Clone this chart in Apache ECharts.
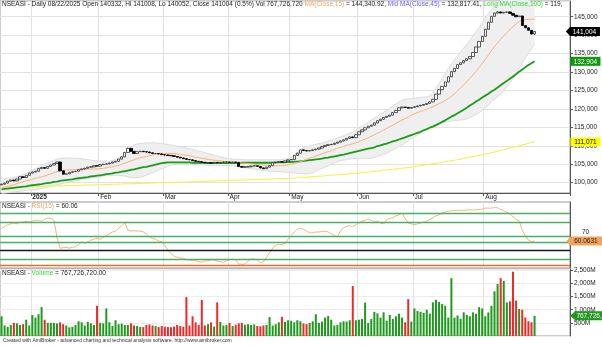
<!DOCTYPE html>
<html><head><meta charset="utf-8">
<script src="https://cdn.jsdelivr.net/npm/echarts@6/dist/echarts.min.js"></script>
<style>html,body{margin:0;padding:0;background:#fff}#c{width:602px;height:347px}</style>
</head><body><div id="c"></div>
<script>
// ---------- tick labels / categories ----------
const monthLabels = ['', '2025', 'Feb', 'Mar', 'Apr', 'May', 'Jun', 'Jul', 'Aug'];
const barsPerMonth = [10, 22, 21, 21, 20, 22, 18, 23, 17];
const padBars = 11;

// ---------- price (thousands) ----------
const openK = [
99.4,99.6,99.9,100.4,100.7,100.5,101.0,101.6,101.4,102.0,
102.6,102.9,103.1,103.8,104.1,103.9,104.4,104.8,105.2,105.6,
103.2,102.3,102.4,102.8,103.0,103.1,103.5,103.7,103.9,104.2,
104.3,104.6,104.5,104.9,105.0,105.1,105.3,105.6,105.8,106.4,
107.0,108.2,109.3,108.5,107.9,108.4,108.5,108.4,108.3,108.1,
107.9,107.9,107.8,107.6,107.5,107.4,107.3,107.1,106.9,106.7,
106.5,106.3,106.2,106.0,105.8,105.7,105.5,105.4,105.4,105.3,
105.5,105.4,105.5,105.6,105.6,105.5,105.6,105.5,104.4,104.2,
104.3,104.3,104.5,104.6,104.4,104.0,103.8,104.2,104.6,105.4,
105.5,105.7,105.6,105.9,106.2,106.3,107.4,108.0,108.9,108.7,
108.6,108.7,108.9,109.1,109.4,109.8,110.1,110.3,110.4,110.7,
111.0,111.3,111.6,112.0,112.4,112.2,113.0,113.8,114.3,114.9,
115.3,115.6,116.2,116.8,117.2,117.7,118.0,118.3,119.0,119.6,
120.3,120.5,120.4,120.2,120.4,120.6,120.8,121.0,121.2,121.5,
121.9,122.6,124.0,125.2,126.1,127.3,128.7,130.1,131.0,132.0,
132.5,133.1,133.6,134.2,135.3,136.8,138.3,139.7,141.6,143.5,
145.1,146.0,146.3,146.0,146.2,146.3,145.9,145.4,145.0,145.2,
142.6,142.0,141.3,140.332];
const closeK = [
99.6,99.9,100.4,100.7,100.5,101.0,101.6,101.4,102.0,102.6,
102.9,103.1,103.8,104.1,103.9,104.4,104.8,105.2,105.6,103.2,
102.3,102.4,102.8,103.0,103.1,103.5,103.7,103.9,104.2,104.3,
104.6,104.5,104.9,105.0,105.1,105.3,105.6,105.8,106.4,107.0,
108.2,109.3,108.5,107.9,108.4,108.5,108.4,108.3,108.1,107.9,
107.9,107.8,107.6,107.5,107.4,107.3,107.1,106.9,106.7,106.5,
106.3,106.2,106.0,105.8,105.7,105.5,105.4,105.4,105.3,105.5,
105.4,105.5,105.6,105.6,105.5,105.6,105.5,104.4,104.2,104.3,
104.3,104.5,104.6,104.4,104.0,103.8,104.2,104.6,105.4,105.5,
105.7,105.6,105.9,106.2,106.3,107.4,108.0,108.9,108.7,108.6,
108.7,108.9,109.1,109.4,109.8,110.1,110.3,110.4,110.7,111.0,
111.3,111.6,112.0,112.4,112.2,113.0,113.8,114.3,114.9,115.3,
115.6,116.2,116.8,117.2,117.7,118.0,118.3,119.0,119.6,120.3,
120.5,120.4,120.2,120.4,120.6,120.8,121.0,121.2,121.5,121.9,
122.6,124.0,125.2,126.1,127.3,128.7,130.1,131.0,132.0,132.5,
133.1,133.6,134.2,135.3,136.8,138.3,139.7,141.6,143.5,145.1,
146.0,146.3,146.0,146.2,146.3,145.9,145.4,145.0,145.2,142.6,
142.0,141.3,140.3,141.004];
const highK = [
99.7,100.0,100.5,100.8,100.8,101.1,101.7,101.7,102.1,102.7,
103.0,103.2,103.9,104.2,104.2,104.5,104.9,105.3,105.7,105.7,
103.3,102.5,102.9,103.1,103.2,103.6,103.8,104.0,104.3,104.4,
104.7,104.7,105.0,105.1,105.2,105.4,105.7,105.9,106.5,107.1,
108.3,109.5,109.4,108.6,108.5,108.6,108.6,108.5,108.4,108.2,
108.0,108.0,107.9,107.7,107.6,107.5,107.4,107.2,107.0,106.8,
106.6,106.4,106.3,106.1,105.9,105.8,105.6,105.5,105.5,105.6,
105.6,105.6,105.7,105.7,105.7,105.7,105.7,105.6,104.5,104.4,
104.4,104.6,104.7,104.7,104.5,104.1,104.3,104.7,105.5,105.6,
105.8,105.8,106.0,106.3,106.4,107.5,108.1,109.0,109.0,108.8,
108.8,109.0,109.2,109.5,109.9,110.2,110.4,110.5,110.8,111.1,
111.4,111.7,112.1,112.5,112.5,113.1,113.9,114.4,115.0,115.4,
115.7,116.3,116.9,117.3,117.8,118.1,118.4,119.1,119.7,120.4,
120.6,120.6,120.5,120.5,120.7,120.9,121.1,121.3,121.6,122.0,
122.7,124.1,125.3,126.2,127.4,128.8,130.2,131.1,132.1,132.6,
133.2,133.7,134.3,135.4,136.9,138.4,139.8,141.7,143.6,145.2,
146.1,146.5,146.4,146.3,146.4,146.4,146.0,145.5,145.3,145.3,
142.7,142.1,141.4,141.008];
const lowK = [
99.3,99.5,99.8,100.3,100.4,100.4,100.9,101.3,101.3,101.9,
102.5,102.8,103.0,103.7,103.8,103.8,104.3,104.7,105.1,103.1,
102.2,102.2,102.3,102.7,102.9,103.0,103.4,103.6,103.8,104.1,
104.2,104.4,104.4,104.8,104.9,105.0,105.2,105.5,105.7,106.3,
106.9,108.1,108.4,107.8,107.8,108.3,108.3,108.2,108.0,107.8,
107.8,107.7,107.5,107.4,107.3,107.2,107.0,106.8,106.6,106.4,
106.2,106.1,105.9,105.7,105.6,105.4,105.3,105.3,105.2,105.2,
105.3,105.3,105.4,105.5,105.4,105.4,105.4,104.3,104.1,104.1,
104.2,104.2,104.4,104.3,103.9,103.7,103.7,104.1,104.5,105.3,
105.4,105.5,105.5,105.8,106.1,106.2,107.3,107.9,108.6,108.5,
108.5,108.6,108.8,109.0,109.3,109.7,110.0,110.2,110.3,110.6,
110.9,111.2,111.5,111.9,112.1,112.1,112.9,113.7,114.2,114.8,
115.2,115.5,116.1,116.7,117.1,117.6,117.9,118.2,118.9,119.5,
120.2,120.3,120.1,120.1,120.3,120.5,120.7,120.9,121.1,121.4,
121.8,122.5,123.9,125.1,126.0,127.2,128.6,130.0,130.9,131.9,
132.4,133.0,133.5,134.1,135.2,136.7,138.2,139.6,141.5,143.4,
145.0,145.9,145.9,145.9,146.1,145.8,145.3,144.9,144.9,142.5,
141.9,141.2,140.2,140.052];

// ---------- overlays (thousands) ----------
const ma15K = [
98.6,98.8,99.0,99.2,99.5,99.7,100.0,100.3,100.5,100.7,
100.9,101.2,101.4,101.6,101.8,102.1,102.4,102.7,103.0,103.2,
103.4,103.4,103.5,103.5,103.6,103.6,103.7,103.7,103.7,103.7,
103.7,103.7,103.75,103.9,104.0,104.2,104.3,104.5,104.7,105.0,
105.3,105.6,105.9,106.2,106.5,106.7,106.9,107.1,107.3,107.5,
107.7,107.8,107.9,107.9,108.0,107.9,107.9,107.8,107.7,107.6,
107.4,107.3,107.1,106.9,106.8,106.6,106.5,106.3,106.2,106.1,
106.0,105.9,105.8,105.7,105.6,105.5,105.5,105.4,105.3,105.3,
105.2,105.1,105.0,104.9,104.8,104.8,104.7,104.7,104.6,104.6,
104.6,104.6,104.7,104.8,105.0,105.2,105.4,105.7,106.0,106.3,
106.6,106.9,107.2,107.5,107.8,108.1,108.4,108.7,109.0,109.3,
109.6,109.8,110.1,110.3,110.6,110.8,111.1,111.5,111.8,112.2,
112.6,113.0,113.4,113.8,114.3,114.7,115.2,115.6,116.1,116.5,
117.0,117.4,117.8,118.3,118.7,119.0,119.3,119.6,119.9,120.3,
120.6,121.0,121.4,121.8,122.3,122.8,123.4,124.1,124.9,125.7,
126.5,127.4,128.3,129.2,130.2,131.2,132.3,133.4,134.6,135.8,
136.9,137.9,138.9,139.8,140.7,141.5,142.3,143.0,143.7,144.0,
144.2,144.3,144.3,144.34];
const midMaK = [
98.2,98.3,98.4,98.5,98.6,98.7,98.8,98.9,99.0,99.2,
99.3,99.4,99.5,99.6,99.8,99.9,100.0,100.2,100.3,100.5,
100.6,100.7,100.8,100.9,101.1,101.2,101.3,101.4,101.5,101.7,
101.8,101.9,102.0,102.1,102.3,102.4,102.5,102.7,102.8,103.0,
103.1,103.3,103.5,103.6,103.8,104.0,104.2,104.3,104.5,104.7,
104.9,105.1,105.3,105.4,105.5,105.5,105.5,105.5,105.5,105.5,
105.5,105.5,105.4,105.4,105.4,105.4,105.4,105.3,105.3,105.3,
105.3,105.3,105.3,105.3,105.3,105.3,105.3,105.3,105.4,105.4,
105.4,105.4,105.4,105.4,105.4,105.4,105.4,105.4,105.4,105.5,
105.5,105.5,105.5,105.6,105.6,105.7,105.7,105.8,105.9,106.0,
106.1,106.2,106.3,106.4,106.5,106.7,106.8,107.0,107.1,107.3,
107.5,107.6,107.8,108.0,108.2,108.4,108.6,108.8,109.0,109.2,
109.4,109.6,109.9,110.1,110.4,110.6,110.9,111.2,111.4,111.7,
112.0,112.3,112.6,112.9,113.2,113.5,113.8,114.2,114.5,114.9,
115.2,115.6,116.0,116.5,116.9,117.4,117.9,118.3,118.8,119.3,
119.8,120.3,120.9,121.4,122.0,122.5,123.1,123.6,124.1,124.7,
125.2,125.8,126.4,127.0,127.6,128.2,128.8,129.4,130.1,130.7,
131.3,131.9,132.4,132.904];
const longMaK = [
98.70,98.72,98.75,98.77,98.79,98.82,98.84,98.86,98.89,98.91,
98.93,98.96,98.98,99.00,99.03,99.05,99.07,99.10,99.12,99.14,
99.17,99.19,99.21,99.24,99.26,99.28,99.31,99.33,99.35,99.38,
99.40,99.43,99.45,99.48,99.51,99.53,99.56,99.59,99.61,99.64,
99.67,99.69,99.72,99.75,99.77,99.80,99.83,99.85,99.88,99.91,
99.93,99.96,99.99,100.01,100.04,100.07,100.09,100.12,100.15,100.17,
100.20,100.23,100.26,100.29,100.32,100.35,100.38,100.41,100.44,100.47,
100.50,100.53,100.56,100.59,100.62,100.65,100.68,100.71,100.74,100.76,
100.79,100.82,100.85,100.88,100.91,100.94,100.97,101.00,101.03,101.06,
101.09,101.12,101.15,101.18,101.20,101.26,101.32,101.39,101.45,101.51,
101.57,101.63,101.70,101.76,101.82,101.88,101.95,102.01,102.07,102.13,
102.19,102.26,102.32,102.38,102.44,102.50,102.59,102.69,102.78,102.88,
102.97,103.07,103.16,103.26,103.35,103.44,103.54,103.63,103.73,103.82,
103.92,104.01,104.11,104.20,104.33,104.47,104.60,104.73,104.87,105.00,
105.13,105.27,105.40,105.53,105.67,105.80,105.93,106.07,106.20,106.38,
106.55,106.73,106.90,107.08,107.25,107.43,107.60,107.78,107.95,108.13,
108.30,108.52,108.73,108.95,109.16,109.38,109.59,109.81,110.02,110.24,
110.45,110.67,110.88,111.071];
const bandUpperK = [
101.0,101.1,101.2,101.3,101.5,101.6,101.9,102.2,102.5,102.9,
103.4,103.8,104.2,104.6,105.0,105.4,105.7,106.0,106.4,106.6,
106.7,106.7,106.7,106.7,106.6,106.6,106.5,106.4,106.3,106.1,
106.0,105.9,105.9,105.8,105.8,105.8,106.0,106.3,106.7,107.1,
107.6,108.7,109.8,110.2,110.5,110.6,110.7,110.8,110.8,110.8,
110.8,110.7,110.6,110.5,110.4,110.2,110.0,109.9,109.7,109.6,
109.4,109.2,109.0,108.8,108.6,108.4,108.2,107.9,107.7,107.4,
107.2,107.0,106.8,106.6,106.5,106.4,106.3,106.3,106.3,106.2,
106.2,106.2,106.2,106.2,106.2,106.2,106.2,106.2,106.2,106.2,
106.2,106.3,106.4,106.6,106.9,107.6,108.2,108.9,109.5,109.8,
110.0,110.2,110.4,110.6,110.8,111.0,111.3,111.6,111.8,112.1,
112.4,112.7,113.1,113.4,113.8,114.2,114.8,115.3,115.9,116.4,
117.0,117.5,118.0,118.6,119.1,119.6,120.2,120.8,121.3,121.9,
122.4,122.6,122.7,122.8,122.9,123.0,123.1,123.2,123.3,123.5,
124.5,125.6,126.9,128.2,129.6,131.0,132.2,133.3,134.4,135.5,
136.5,137.6,138.7,139.8,140.9,142.0,143.3,144.6,145.9,147.0,
148.0,148.8,149.4,149.9,150.3,150.6,150.7,150.6,150.4,150.2,
150.0,149.6,149.1,148.6];
const bandLowerK = [
97.0,97.1,97.2,97.3,97.4,97.6,97.7,97.8,97.9,98.0,
98.0,98.1,98.2,98.4,98.6,98.8,99.0,99.2,99.4,99.6,
99.8,100.0,100.2,100.3,100.5,100.6,100.8,101.0,101.1,101.3,
101.4,101.5,101.6,101.8,101.9,102.0,102.0,102.0,101.9,101.9,
101.8,101.6,101.4,101.4,101.4,101.4,101.7,102.0,102.4,102.7,
103.0,103.4,103.8,104.1,104.5,104.8,104.9,104.9,105.0,105.0,
105.0,105.0,104.9,104.9,104.9,104.8,104.8,104.7,104.7,104.6,
104.6,104.6,104.6,104.6,104.6,104.6,104.4,104.2,104.1,104.0,
103.9,103.8,103.7,103.6,103.4,103.3,103.2,103.1,103.1,103.0,
103.0,102.9,102.9,102.8,102.7,102.6,102.5,102.5,102.4,102.4,
102.4,102.7,103.1,103.5,103.9,104.2,104.6,105.0,105.3,105.7,
106.0,106.1,106.2,106.4,106.5,106.6,106.6,106.6,106.6,106.6,
106.6,106.9,107.1,107.4,107.7,108.0,108.4,108.9,109.3,109.8,
110.2,110.8,111.3,111.9,112.4,113.0,113.5,114.1,114.6,115.1,
115.6,115.8,116.0,116.2,116.4,116.6,116.7,116.8,116.9,117.0,
117.0,117.3,117.7,118.1,118.5,119.0,119.6,120.3,121.1,122.0,
122.6,123.3,124.1,125.0,126.0,127.0,128.3,129.6,131.0,132.5,
133.8,135.1,136.3,137.4];

// ---------- RSI(15) ----------
const rsi15 = [
74,76,78,79,80,79,81,81,82,81,
82,83,83,82,84,85.5,85,83,64,52,
52.5,53,52,53,53.5,56,59,57,59,61,
62,63,62,64,66,68,70,71,74,77,
80,72,71,71.5,71,71,70,68,65,63,
62,60,59,55,50,46,43,42,41,41,
39,39,38,38,37,36.5,38,38,39,39,
37.5,37,36.5,38,39,40,39,34.5,34,34.5,
38,40,40,39,35.5,37,42,47,52,55.5,
56,56,57.5,62,66,70,73,74.5,73,71,
69,69,70,70,70.5,71,70,68,66,64.5,
71,75,76,77,76,78,80,82,83,84.5,
83,81,82,80,79,84,85,86,88,89,
91,85,80,79,78,79,80,81,82,84,
86,88,89,91,92,93,93.5,94,94,94,
94,94.5,94.5,94.5,94.5,95,95.5,96.5,96.5,96.5,
97,97,95,93.5,92,90,87,84,82,72,
66,61,59.5,60.0631];
const rsiLevels = [91.1, 80.8, 65.2, 58.6, 49.7, 39.7, 32.6];
const rsiTickValues = [70];

// ---------- Volume (millions) ----------
const volumeM = [
750,400,350,420,500,480,420,450,620,400,
800,700,830,1100,620,500,500,500,480,520,
450,400,330,350,420,560,520,400,540,480,
420,1150,500,480,1050,520,380,600,450,470,
420,420,480,400,380,350,340,420,440,400,
380,340,380,350,340,330,360,420,380,350,
1480,400,750,520,420,1370,400,450,520,360,
1280,540,400,420,500,380,430,480,500,430,
450,420,440,380,370,400,420,720,400,450,
520,730,540,600,580,520,600,560,480,450,
500,560,830,500,550,700,760,620,400,420,
520,560,550,600,1900,600,620,650,1270,500,
650,920,860,700,900,580,800,650,750,850,
700,520,1400,550,1050,950,920,880,1000,850,
1280,1380,1300,1220,1150,700,2200,700,780,650,
900,800,750,900,850,1100,1050,750,900,1150,
1700,1980,2200,2100,1280,1320,2450,1350,1030,1000,
700,560,520,767.72672];

// ---------- build ----------
const categories = [], isMonthStart = [], tickText = [];
monthLabels.forEach((m, mi) => {
  for (let d = 0; d < barsPerMonth[mi]; d++) {
    categories.push(mi + '-' + d);
    const start = d === 0 && mi > 0;
    isMonthStart.push(start);
    tickText.push(start ? (mi === 1 ? '{y|' + m + '}' : m) : '');
  }
});
for (let p = 0; p < padBars; p++) { categories.push('pad-' + p); isMonthStart.push(false); tickText.push(''); }
const lastCat = categories[categories.length - 1];
const nLast = closeK.length - 1;

function fmtInt(n) { return String(Math.round(n)).replace(/\B(?=(\d{3})+(?!\d))/g, ','); }

const FONT = 'Liberation Sans';
const FS = 6.5;
const ARROW = 'path://M0,5L4,0L34,0L34,10L4,10Z';

function xAxisFor(gi, showLabels) {
  return {
    type: 'category', gridIndex: gi, data: categories, boundaryGap: true,
    axisLine: { show: gi === 0, lineStyle: { color: '#555', width: 1 } },
    axisTick: { show: showLabels, interval: (i) => isMonthStart[i], length: 3, lineStyle: { color: '#555' } },
    axisLabel: {
      show: showLabels, interval: (i) => isMonthStart[i], formatter: (v, i) => tickText[i],
      align: 'left', margin: 1, fontSize: FS, color: '#222', fontFamily: FONT,
      rich: { y: { fontWeight: 'bold', fontSize: FS, fontFamily: FONT, color: '#222' } }
    },
    splitLine: { show: true, interval: (i) => isMonthStart[i], lineStyle: { color: '#e2e2e2', width: 1 } }
  };
}

function lastMark(coordVal, text, bg, fg, arrow, w, off) {
  return {
    symbol: arrow ? ARROW : 'rect', symbolSize: [w, 9], symbolKeepAspect: false,
    symbolOffset: [off, 0], silent: true, animation: false,
    itemStyle: { color: bg },
    label: { show: true, position: 'inside', color: fg, fontSize: FS, fontFamily: FONT, formatter: text, offset: [arrow ? 1.5 : 0, 0.5] },
    data: [{ coord: [lastCat, coordVal] }]
  };
}

const candleData = openK.map((o, i) => [o, closeK[i], lowK[i], highK[i]]);
const bandWidthK = bandUpperK.map((u, i) => +(u - bandLowerK[i]).toFixed(3));
const volColor = (p) => {
  const i = p.dataIndex;
  return (i === 0 || closeK[i] >= closeK[i - 1]) ? '#1f9a1f' : '#ec2a2a';
};

const option = {
  animation: false,
  backgroundColor: '#ffffff',
  textStyle: { fontFamily: FONT },
  title: [
    { left: 2, top: 1, padding: 0, textStyle: { fontSize: FS, fontWeight: 'normal', color: '#1a1a1a', fontFamily: FONT,
        rich: { d: { fontSize: FS, color: '#1a1a1a', fontFamily: FONT }, o: { fontSize: FS, color: '#f7a35c', fontFamily: FONT },
                b: { fontSize: FS, color: '#6a5cff', fontFamily: FONT }, g: { fontSize: FS, color: '#3ad43a', fontFamily: FONT } } },
      text: '{d|NSEASI - Daily 08/22/2025 Open 140332, Hi 141008, Lo 140052, Close 141004 (0.5%) Vol 767,726,720 }{o|MA(Close,15)}{d| = 144,340.92, }{b|Mid MA(Close,45)}{d| = 132,817.41, }{g|Long MA(Close,100)}{d| = 119,}' },
    { left: 2, top: 203, padding: 0, textStyle: { fontSize: FS, fontWeight: 'normal', fontFamily: FONT,
        rich: { d: { fontSize: FS, color: '#1a1a1a', fontFamily: FONT }, o: { fontSize: FS, color: '#f7a35c', fontFamily: FONT } } },
      text: '{d|NSEASI - }{o|RSI(15)}{d| = 60.06}' },
    { left: 2, top: 270, padding: 0, textStyle: { fontSize: FS, fontWeight: 'normal', fontFamily: FONT,
        rich: { d: { fontSize: FS, color: '#1a1a1a', fontFamily: FONT }, g: { fontSize: FS, color: '#3ad43a', fontFamily: FONT } } },
      text: '{d|NSEASI - }{g|Volume}{d| = 767,726,720.00}' },
    { left: 3, top: 338, padding: 0, textStyle: { fontSize: 5, fontWeight: 'normal', color: '#333', fontFamily: FONT },
      text: 'Created with AmiBroker - advanced charting and technical analysis software. http://www.amibroker.com' }
  ],
  grid: [
    { left: 0, right: 32, top: 1, height: 192, show: true, borderColor: '#9a9a9a', borderWidth: 1 },
    { left: 0, right: 32, top: 202, height: 66, show: true, borderColor: '#9a9a9a', borderWidth: 1 },
    { left: 0, right: 32, top: 269, height: 67, show: true, borderColor: '#9a9a9a', borderWidth: 1 }
  ],
  xAxis: [xAxisFor(0, true), xAxisFor(1, false), xAxisFor(2, false)],
  yAxis: [
    { type: 'value', gridIndex: 0, position: 'right', min: 97.2, max: 149.26, splitNumber: 10,
      axisLine: { show: true, lineStyle: { color: '#555' } }, axisTick: { show: true, length: 3, lineStyle: { color: '#555' } },
      axisLabel: { showMinLabel: false, showMaxLabel: false, fontSize: FS, margin: 4, color: '#222', fontFamily: FONT, formatter: (v) => fmtInt(v * 1000) },
      splitLine: { show: true, lineStyle: { color: '#e2e2e2' } } },
    { type: 'value', gridIndex: 1, position: 'right', min: 30, max: 103.3, interval: 10,
      axisLine: { show: true, lineStyle: { color: '#555' } }, axisTick: { show: false },
      axisLabel: { showMinLabel: false, showMaxLabel: false, fontSize: FS, margin: 12, color: '#222', fontFamily: FONT,
        formatter: (v) => rsiTickValues.indexOf(v) >= 0 ? String(v) : '' },
      splitLine: { show: false } },
    { type: 'value', gridIndex: 2, position: 'right', min: 0, max: 2550, interval: 500,
      axisLine: { show: true, lineStyle: { color: '#555' } }, axisTick: { show: true, length: 3, lineStyle: { color: '#555' } },
      axisLabel: { showMinLabel: false, showMaxLabel: false, fontSize: FS, margin: 4, color: '#222', fontFamily: FONT, formatter: (v) => fmtInt(v) + 'M' },
      splitLine: { show: true, lineStyle: { color: '#ececec' } } }
  ],
  series: [
    { type: 'line', xAxisIndex: 0, yAxisIndex: 0, data: bandLowerK, stack: 'bb', symbol: 'none', silent: true,
      lineStyle: { opacity: 0 }, z: 1 },
    { type: 'line', xAxisIndex: 0, yAxisIndex: 0, data: bandWidthK, stack: 'bb', symbol: 'none', silent: true,
      lineStyle: { opacity: 0 }, areaStyle: { color: '#efefef', opacity: 1 }, z: 1 },
    { type: 'line', xAxisIndex: 0, yAxisIndex: 0, data: bandUpperK, symbol: 'none', silent: true,
      lineStyle: { color: '#d6d6d6', width: 0.8 }, z: 2 },
    { type: 'line', xAxisIndex: 0, yAxisIndex: 0, data: bandLowerK, symbol: 'none', silent: true,
      lineStyle: { color: '#d6d6d6', width: 0.8 }, z: 2 },
    { type: 'line', xAxisIndex: 0, yAxisIndex: 0, data: longMaK, symbol: 'none', silent: true, clip: false,
      lineStyle: { color: '#f3f34a', width: 1.1 }, z: 3,
      markPoint: lastMark(longMaK[nLast], fmtInt(longMaK[nLast] * 1000), '#ffff00', '#000', false, 30, 17) },
    { type: 'line', xAxisIndex: 0, yAxisIndex: 0, data: midMaK, symbol: 'none', silent: true, clip: false,
      lineStyle: { color: '#1c9a1c', width: 1.8 }, z: 3,
      markPoint: lastMark(midMaK[nLast], fmtInt(midMaK[nLast] * 1000), '#129612', '#fff', false, 30, 17) },
    { type: 'line', xAxisIndex: 0, yAxisIndex: 0, data: ma15K, symbol: 'none', silent: true,
      lineStyle: { color: '#f7b47a', width: 1 }, z: 3 },
    { type: 'candlestick', xAxisIndex: 0, yAxisIndex: 0, data: candleData, barWidth: 2.8, clip: false, z: 4,
      itemStyle: { color: '#ffffff', color0: '#000000', borderColor: '#333333', borderColor0: '#000000', borderWidth: 0.8 },
      markPoint: lastMark(closeK[nLast], fmtInt(closeK[nLast] * 1000), '#000000', '#fff', true, 34, 14.5) },
    { type: 'line', xAxisIndex: 1, yAxisIndex: 1, data: rsi15, symbol: 'none', silent: true, clip: false,
      lineStyle: { color: '#f8b47c', width: 1 }, z: 3,
      markLine: { silent: true, symbol: ['none', 'none'], animation: false, label: { show: false },
        data: rsiLevels.map((v, k) => ({ yAxis: v, lineStyle: { type: 'solid', width: 1.3,
          color: k === 4 ? '#1a1a1a' : (k === 6 ? '#f26a2a' : '#4caf63') } })) },
      markPoint: lastMark(rsi15[nLast], String(rsi15[nLast]), '#f5a35a', '#222', true, 36, 16) },
    { type: 'bar', xAxisIndex: 2, yAxisIndex: 2, data: volumeM, barWidth: 2, clip: false, z: 3,
      itemStyle: { color: volColor },
      markPoint: lastMark(volumeM[nLast], fmtInt(volumeM[nLast] * 1e6), '#1f9a1f', '#fff', true, 46, 24.5) }
  ]
};

const chart = echarts.init(document.getElementById('c'), null, { renderer: 'canvas', width: 602, height: 347 });
chart.setOption(option);
</script>
</body></html>
